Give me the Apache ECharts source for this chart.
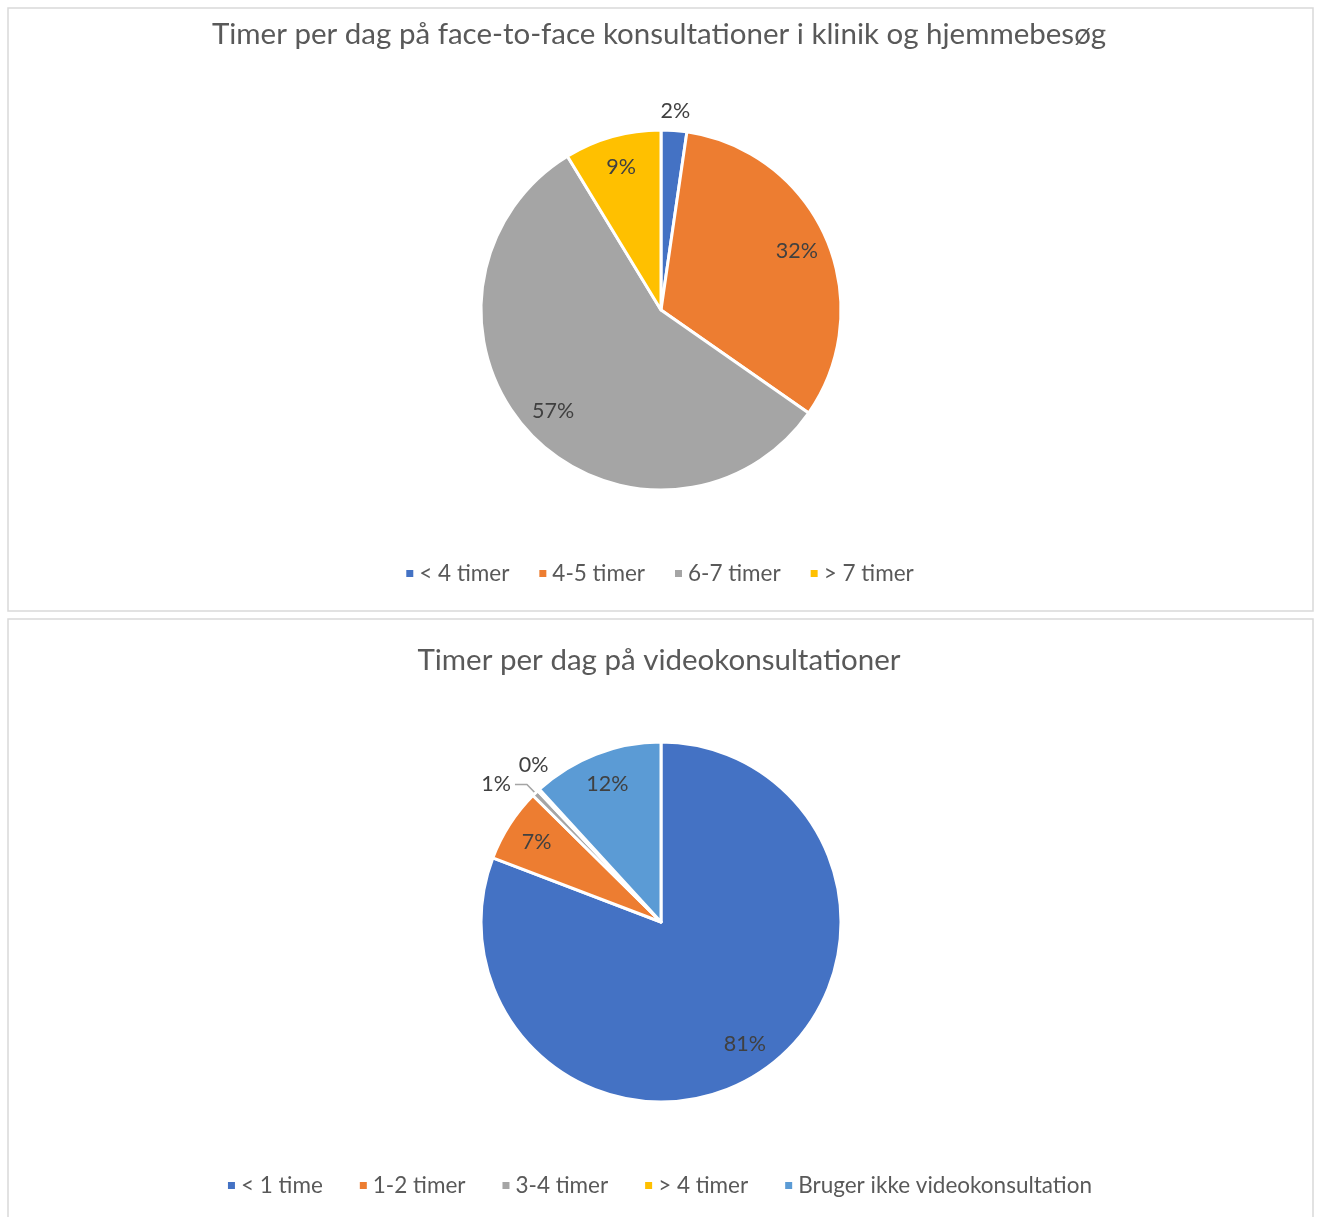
<!DOCTYPE html>
<html>
<head>
    <meta charset="utf-8">
    <title>Timer per dag</title>
    <script src="https://cdn.jsdelivr.net/npm/echarts@6/dist/echarts.min.js"></script>
    <style>
        html, body { margin: 0; padding: 0; background: #fff; }
        #main { width: 1318px; height: 1217px; }
    </style>
</head>
<body>
<div id="main"></div>
<script>
    // top chart: face-to-face
    var faceTitle = 'Timer per dag på face-to-face konsultationer i klinik og hjemmebesøg';
    var faceCats = ['< 4 timer', '4-5 timer', '6-7 timer', '> 7 timer'];
    var faceVals = [2.3, 32.4, 56.6, 8.7];
    var faceColors = ['#4472C4', '#ED7D31', '#A5A5A5', '#FFC000'];
    var faceLined = [];             // outside label with a leader line
    var faceAbove = ['< 4 timer'];  // outside label, no line
    var faceFree = [];              // outside label, nudged sideways

    // bottom chart: video
    var videoTitle = 'Timer per dag på videokonsultationer';
    var videoCats = ['< 1 time', '1-2 timer', '3-4 timer', '> 4 timer', 'Bruger ikke videokonsultation'];
    var videoVals = [80.8, 6.6, 0.6, 0.2, 11.8];
    var videoColors = ['#4472C4', '#ED7D31', '#A5A5A5', '#FFC000', '#5B9BD5'];
    var videoLined = ['3-4 timer'];
    var videoAbove = [];
    var videoFree = ['> 4 timer'];

    var FONT = 'Lato, "Open Sans", sans-serif';
    var myChart = echarts.init(document.getElementById('main'));

    function pct(p) {
        return Math.round(p.percent) + '%';
    }

    // transparent ring, only used to place labels at a chosen radius
    function labelRing(cats, vals, showList, invert, cy, radius) {
        return {
            type: 'pie',
            center: [661, cy],
            radius: radius,
            startAngle: 90,
            clockwise: true,
            silent: true,
            legendHoverLink: false,
            itemStyle: { color: 'rgba(0,0,0,0)', borderWidth: 0 },
            label: { show: true, position: 'inside', formatter: pct, fontFamily: FONT, fontSize: 21.5, color: '#404040' },
            labelLine: { show: false },
            data: cats.map(function (c, i) {
                var inList = showList.indexOf(c) >= 0;
                return {
                    name: c + ' ',
                    value: vals[i],
                    label: { show: invert ? !inList : inList }
                };
            })
        };
    }

    // transparent pie with outside labels and hidden lines (for tiny slices)
    function freeLabels(cats, vals, showList, cy, r, shift) {
        return {
            type: 'pie',
            center: [661, cy],
            radius: [0, r],
            startAngle: 90,
            clockwise: true,
            silent: true,
            legendHoverLink: false,
            avoidLabelOverlap: false,
            itemStyle: { color: 'rgba(0,0,0,0)', borderWidth: 0 },
            label: { position: 'outside', formatter: pct, fontFamily: FONT, fontSize: 21.5, color: '#404040', distanceToLabelLine: shift },
            labelLine: { show: false, length: 0, length2: 0 },
            data: cats.map(function (c, i) {
                return { name: c + '  ', value: vals[i], label: { show: showList.indexOf(c) >= 0 } };
            })
        };
    }

    function pieSeries(cats, vals, colors, lined, cy) {
        var data = cats.map(function (c, i) {
            var on = lined.indexOf(c) >= 0;
            return {
                name: c, value: vals[i],
                itemStyle: { color: colors[i] },
                label: { show: on },
                labelLine: { show: on }
            };
        });
        return {
            type: 'pie',
            center: [661, cy],
            radius: [0, 180],
            startAngle: 90,
            clockwise: true,
            itemStyle: { borderColor: '#fff', borderWidth: 3 },
            label: { position: 'outside', formatter: pct, fontFamily: FONT, fontSize: 21.5, color: '#404040', padding: [0, 0, 16, 0], distanceToLabelLine: 4 },
            labelLine: { length: 12, length2: 12, lineStyle: { color: '#A5A5A5', width: 1.5 } },
            emphasis: { scale: false },
            data: data
        };
    }

    var titleText = { fontFamily: FONT, fontSize: 29.5, fontWeight: 'normal', color: '#595959' };

    function legend(cats, top, gap) {
        return {
            data: cats, top: top, left: 'center', icon: 'rect',
            itemWidth: 9, itemHeight: 9, itemGap: gap,
            textStyle: { fontFamily: FONT, fontSize: 22.5, color: '#595959' }
        };
    }

    var option = {
        animation: false,
        graphic: [
            { type: 'rect', shape: { x: 8, y: 8, width: 1305, height: 603 }, style: { fill: 'none', stroke: '#D9D9D9', lineWidth: 1.5 } },
            { type: 'rect', shape: { x: 8, y: 619, width: 1305, height: 620 }, style: { fill: 'none', stroke: '#D9D9D9', lineWidth: 1.5 } }
        ],
        title: [
            { text: faceTitle, left: 'center', top: 14, textStyle: titleText },
            { text: videoTitle, left: 'center', top: 640, textStyle: titleText }
        ],
        legend: [
            legend(faceCats, 557, 28),
            legend(videoCats, 1169, 35)
        ],
        series: [
            pieSeries(faceCats, faceVals, faceColors, faceLined, 310),
            labelRing(faceCats, faceVals, faceLined.concat(faceAbove, faceFree), true, 310, [110, 180]),
            labelRing(faceCats, faceVals, faceAbove, false, 310, [182, 210]),
            pieSeries(videoCats, videoVals, videoColors, videoLined, 922),
            labelRing(videoCats, videoVals, videoLined.concat(videoAbove, videoFree), true, 922, [110, 180]),
            freeLabels(videoCats, videoVals, videoFree, 922, 214, -33)
        ]
    };
    myChart.setOption(option);
</script>
</body>
</html>
